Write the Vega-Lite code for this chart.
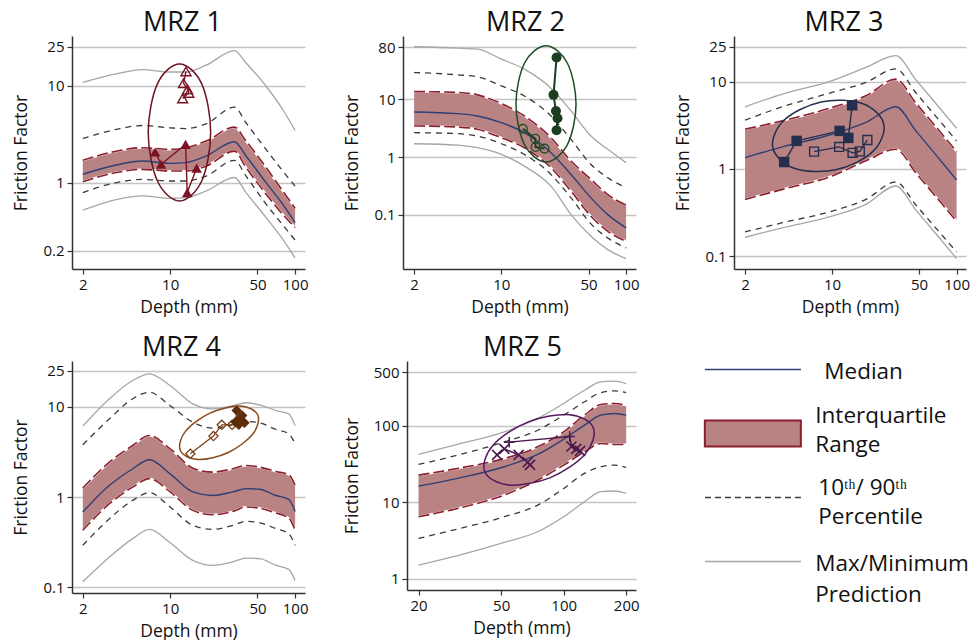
{
  "$schema": "https://vega.github.io/schema/vega-lite/v6.json",
  "background": "white",
  "padding": {"left": 12, "top": 9, "right": 0, "bottom": 0},
  "datasets": {
    "curves": [
      {"panel": "MRZ 1", "depth": 2, "lo": 0.52, "p10": 0.79, "q1": 1.02, "med": 1.22, "q3": 1.7, "p90": 2.85, "hi": 10.8},
      {"panel": "MRZ 1", "depth": 3.7, "lo": 0.67, "p10": 1.0, "q1": 1.27, "med": 1.52, "q3": 2.11, "p90": 3.53, "hi": 13.2},
      {"panel": "MRZ 1", "depth": 6, "lo": 0.73, "p10": 1.08, "q1": 1.37, "med": 1.67, "q3": 2.29, "p90": 3.88, "hi": 14.6},
      {"panel": "MRZ 1", "depth": 10, "lo": 0.69, "p10": 1.04, "q1": 1.32, "med": 1.58, "q3": 2.2, "p90": 3.67, "hi": 13.8},
      {"panel": "MRZ 1", "depth": 13.4, "lo": 0.7, "p10": 1.04, "q1": 1.32, "med": 1.61, "q3": 2.29, "p90": 3.61, "hi": 13.8},
      {"panel": "MRZ 1", "depth": 19.4, "lo": 0.82, "p10": 1.17, "q1": 1.48, "med": 1.88, "q3": 2.68, "p90": 4.04, "hi": 16.2},
      {"panel": "MRZ 1", "depth": 32.7, "lo": 1.13, "p10": 1.7, "q1": 2.11, "med": 2.64, "q3": 3.73, "p90": 5.99, "hi": 22.9},
      {"panel": "MRZ 1", "depth": 40.5, "lo": 0.79, "p10": 1.17, "q1": 1.43, "med": 1.88, "q3": 2.68, "p90": 4.13, "hi": 17.1},
      {"panel": "MRZ 1", "depth": 58.6, "lo": 0.437, "p10": 0.6, "q1": 0.76, "med": 1.0, "q3": 1.43, "p90": 2.2, "hi": 9.84},
      {"panel": "MRZ 1", "depth": 79.6, "lo": 0.262, "p10": 0.367, "q1": 0.473, "med": 0.6, "q3": 0.82, "p90": 1.32, "hi": 5.67},
      {"panel": "MRZ 1", "depth": 100, "lo": 0.167, "p10": 0.256, "q1": 0.345, "med": 0.388, "q3": 0.545, "p90": 0.92, "hi": 3.45},

      {"panel": "MRZ 2", "depth": 2, "lo": 1.7, "p10": 2.64, "q1": 3.45, "med": 6.03, "q3": 13.6, "p90": 29.0, "hi": 80.8},
      {"panel": "MRZ 2", "depth": 4.46, "lo": 1.61, "p10": 2.54, "q1": 3.31, "med": 5.64, "q3": 13.1, "p90": 26.4, "hi": 76.6},
      {"panel": "MRZ 2", "depth": 6.44, "lo": 1.45, "p10": 2.31, "q1": 3.02, "med": 5.14, "q3": 11.9, "p90": 24.4, "hi": 73.6},
      {"panel": "MRZ 2", "depth": 10, "lo": 1.11, "p10": 1.7, "q1": 2.16, "med": 3.94, "q3": 8.41, "p90": 17.0, "hi": 49.4},
      {"panel": "MRZ 2", "depth": 15.3, "lo": 0.698, "p10": 1.11, "q1": 1.45, "med": 2.64, "q3": 5.14, "p90": 11.4, "hi": 33.1},
      {"panel": "MRZ 2", "depth": 25, "lo": 0.314, "p10": 0.5, "q1": 0.653, "med": 1.19, "q3": 2.16, "p90": 5.14, "hi": 15.5},
      {"panel": "MRZ 2", "depth": 36.2, "lo": 0.101, "p10": 0.197, "q1": 0.257, "med": 0.5, "q3": 0.853, "p90": 2.02, "hi": 6.28},
      {"panel": "MRZ 2", "depth": 52.3, "lo": 0.0427, "p10": 0.0698, "q1": 0.0948, "med": 0.197, "q3": 0.41, "p90": 0.746, "hi": 2.31},
      {"panel": "MRZ 2", "depth": 71.3, "lo": 0.0251, "p10": 0.0399, "q1": 0.0521, "med": 0.101, "q3": 0.225, "p90": 0.438, "hi": 1.36},
      {"panel": "MRZ 2", "depth": 100, "lo": 0.0175, "p10": 0.0268, "q1": 0.0349, "med": 0.0595, "q3": 0.147, "p90": 0.294, "hi": 0.8},

      {"panel": "MRZ 3", "depth": 2, "lo": 0.165, "p10": 0.19, "q1": 0.448, "med": 1.35, "q3": 2.86, "p90": 3.63, "hi": 5.16},
      {"panel": "MRZ 3", "depth": 3.99, "lo": 0.212, "p10": 0.242, "q1": 0.584, "med": 1.79, "q3": 3.56, "p90": 5.16, "hi": 7.21},
      {"panel": "MRZ 3", "depth": 10, "lo": 0.288, "p10": 0.329, "q1": 0.831, "med": 2.5, "q3": 5.07, "p90": 7.54, "hi": 10.3},
      {"panel": "MRZ 3", "depth": 18.7, "lo": 0.393, "p10": 0.448, "q1": 1.24, "med": 3.41, "q3": 6.9, "p90": 9.83, "hi": 14.6},
      {"panel": "MRZ 3", "depth": 32.5, "lo": 0.638, "p10": 0.709, "q1": 1.68, "med": 5.16, "q3": 10.7, "p90": 14.0, "hi": 19.9},
      {"panel": "MRZ 3", "depth": 47.1, "lo": 0.338, "p10": 0.386, "q1": 0.9, "med": 2.73, "q3": 5.69, "p90": 7.47, "hi": 10.5},
      {"panel": "MRZ 3", "depth": 68.2, "lo": 0.181, "p10": 0.21, "q1": 0.481, "med": 1.45, "q3": 3.04, "p90": 4.0, "hi": 5.63},
      {"panel": "MRZ 3", "depth": 100, "lo": 0.094, "p10": 0.112, "q1": 0.252, "med": 0.748, "q3": 1.58, "p90": 2.1, "hi": 2.93},

      {"panel": "MRZ 4", "depth": 2, "lo": 0.115, "p10": 0.292, "q1": 0.428, "med": 0.682, "q3": 1.26, "p90": 3.8, "hi": 6.11},
      {"panel": "MRZ 4", "depth": 3.27, "lo": 0.217, "p10": 0.575, "q1": 0.844, "med": 1.35, "q3": 2.44, "p90": 7.37, "hi": 12.3},
      {"panel": "MRZ 4", "depth": 5.02, "lo": 0.346, "p10": 0.919, "q1": 1.29, "med": 2.06, "q3": 3.73, "p90": 12.3, "hi": 19.6},
      {"panel": "MRZ 4", "depth": 6.83, "lo": 0.438, "p10": 1.12, "q1": 1.6, "med": 2.59, "q3": 4.82, "p90": 14.5, "hi": 23.2},
      {"panel": "MRZ 4", "depth": 10, "lo": 0.312, "p10": 0.775, "q1": 1.14, "med": 1.81, "q3": 3.43, "p90": 10.3, "hi": 17.2},
      {"panel": "MRZ 4", "depth": 15.2, "lo": 0.199, "p10": 0.486, "q1": 0.712, "med": 1.14, "q3": 2.09, "p90": 6.76, "hi": 10.8},
      {"panel": "MRZ 4", "depth": 21.9, "lo": 0.175, "p10": 0.438, "q1": 0.637, "med": 1.04, "q3": 1.89, "p90": 5.81, "hi": 9.5},
      {"panel": "MRZ 4", "depth": 31.7, "lo": 0.191, "p10": 0.486, "q1": 0.694, "med": 1.14, "q3": 2.06, "p90": 6.32, "hi": 10.3},
      {"panel": "MRZ 4", "depth": 40.5, "lo": 0.211, "p10": 0.538, "q1": 0.775, "med": 1.24, "q3": 2.24, "p90": 6.88, "hi": 11.1},
      {"panel": "MRZ 4", "depth": 51.8, "lo": 0.208, "p10": 0.52, "q1": 0.755, "med": 1.22, "q3": 2.15, "p90": 6.65, "hi": 10.5},
      {"panel": "MRZ 4", "depth": 70.4, "lo": 0.175, "p10": 0.446, "q1": 0.665, "med": 1.04, "q3": 1.92, "p90": 5.61, "hi": 9.1},
      {"panel": "MRZ 4", "depth": 88.9, "lo": 0.158, "p10": 0.393, "q1": 0.586, "med": 0.942, "q3": 1.77, "p90": 5.02, "hi": 8.37},
      {"panel": "MRZ 4", "depth": 100, "lo": 0.119, "p10": 0.292, "q1": 0.428, "med": 0.694, "q3": 1.35, "p90": 3.89, "hi": 6.21},

      {"panel": "MRZ 5", "depth": 20, "lo": 1.52, "p10": 3.39, "q1": 6.5, "med": 16.3, "q3": 22.7, "p90": 31.3, "hi": 42.3},
      {"panel": "MRZ 5", "depth": 30.8, "lo": 2.02, "p10": 4.49, "q1": 8.35, "med": 20.6, "q3": 27.8, "p90": 41.4, "hi": 57.1},
      {"panel": "MRZ 5", "depth": 51.8, "lo": 3.01, "p10": 6.5, "q1": 12.5, "med": 29.2, "q3": 37.5, "p90": 61.8, "hi": 83.5},
      {"panel": "MRZ 5", "depth": 75, "lo": 4.14, "p10": 9.23, "q1": 19.6, "med": 42.3, "q3": 53.2, "p90": 87.7, "hi": 125},
      {"panel": "MRZ 5", "depth": 100, "lo": 6.5, "p10": 15.2, "q1": 30.7, "med": 67.0, "q3": 83.5, "p90": 138, "hi": 196},
      {"panel": "MRZ 5", "depth": 126, "lo": 10.2, "p10": 23.9, "q1": 45.8, "med": 102, "q3": 138, "p90": 206, "hi": 292},
      {"panel": "MRZ 5", "depth": 151, "lo": 13.8, "p10": 29.2, "q1": 58.9, "med": 138, "q3": 190, "p90": 272, "hi": 375},
      {"panel": "MRZ 5", "depth": 176, "lo": 14.1, "p10": 30.7, "q1": 57.1, "med": 145, "q3": 196, "p90": 286, "hi": 383},
      {"panel": "MRZ 5", "depth": 200, "lo": 13.1, "p10": 28.6, "q1": 57.1, "med": 138, "q3": 186, "p90": 272, "hi": 356}
    ],
    "samples": [
      {"panel": "MRZ 1", "depth": 7.59, "ff": 2.07, "group": "filled", "chain": "a", "seq": 1},
      {"panel": "MRZ 1", "depth": 8.47, "ff": 1.55, "group": "filled", "chain": "a", "seq": 2},
      {"panel": "MRZ 1", "depth": 13.3, "ff": 2.48, "group": "filled", "chain": "a", "seq": 3},
      {"panel": "MRZ 1", "depth": 13.7, "ff": 0.79, "group": "filled", "chain": "a", "seq": 4},
      {"panel": "MRZ 1", "depth": 16.3, "ff": 1.41, "group": "filled", "chain": "a", "seq": 5},
      {"panel": "MRZ 1", "depth": 12.6, "ff": 7.36, "group": "hollow", "chain": "b", "seq": 1},
      {"panel": "MRZ 1", "depth": 14.1, "ff": 8.4, "group": "hollow", "chain": "b", "seq": 2},
      {"panel": "MRZ 1", "depth": 13.8, "ff": 9.1, "group": "hollow", "chain": "b", "seq": 3},
      {"panel": "MRZ 1", "depth": 12.8, "ff": 10.6, "group": "hollow", "chain": "b", "seq": 4},
      {"panel": "MRZ 1", "depth": 13.4, "ff": 14.0, "group": "hollow", "chain": "b", "seq": 5},

      {"panel": "MRZ 2", "depth": 27.7, "ff": 52.6, "group": "filled", "chain": "a", "seq": 1},
      {"panel": "MRZ 2", "depth": 26.2, "ff": 11.9, "group": "filled", "chain": "a", "seq": 2},
      {"panel": "MRZ 2", "depth": 27.4, "ff": 6.27, "group": "filled", "chain": "a", "seq": 3},
      {"panel": "MRZ 2", "depth": 28.2, "ff": 4.69, "group": "filled", "chain": "a", "seq": 4},
      {"panel": "MRZ 2", "depth": 27.7, "ff": 2.9, "group": "filled", "chain": "a", "seq": 5},
      {"panel": "MRZ 2", "depth": 14.9, "ff": 3.08, "group": "hollow", "chain": "b", "seq": 1},
      {"panel": "MRZ 2", "depth": 18.7, "ff": 2.08, "group": "hollow", "chain": "b", "seq": 2},
      {"panel": "MRZ 2", "depth": 18.8, "ff": 1.49, "group": "hollow", "chain": "b", "seq": 3},
      {"panel": "MRZ 2", "depth": 22.2, "ff": 1.4, "group": "hollow", "chain": "b", "seq": 4},

      {"panel": "MRZ 3", "depth": 4.12, "ff": 1.2, "group": "filled", "chain": "a", "seq": 1},
      {"panel": "MRZ 3", "depth": 5.19, "ff": 2.1, "group": "filled", "chain": "a", "seq": 2},
      {"panel": "MRZ 3", "depth": 11.5, "ff": 2.73, "group": "filled", "chain": "a", "seq": 3},
      {"panel": "MRZ 3", "depth": 13.5, "ff": 2.27, "group": "filled", "chain": "a", "seq": 4},
      {"panel": "MRZ 3", "depth": 14.5, "ff": 5.37, "group": "filled", "chain": "a", "seq": 5},
      {"panel": "MRZ 3", "depth": 7.17, "ff": 1.58, "group": "hollow", "chain": "b", "seq": 1},
      {"panel": "MRZ 3", "depth": 11.4, "ff": 1.79, "group": "hollow", "chain": "b", "seq": 2},
      {"panel": "MRZ 3", "depth": 14.6, "ff": 1.53, "group": "hollow", "chain": "b", "seq": 3},
      {"panel": "MRZ 3", "depth": 16.7, "ff": 1.59, "group": "hollow", "chain": "b", "seq": 4},
      {"panel": "MRZ 3", "depth": 19.2, "ff": 2.15, "group": "hollow", "chain": "b", "seq": 5},

      {"panel": "MRZ 4", "depth": 14.5, "ff": 3.02, "group": "hollow", "chain": "b", "seq": 1},
      {"panel": "MRZ 4", "depth": 22.2, "ff": 4.74, "group": "hollow", "chain": "b", "seq": 2},
      {"panel": "MRZ 4", "depth": 25.9, "ff": 6.32, "group": "hollow", "chain": "b", "seq": 3},
      {"panel": "MRZ 4", "depth": 31.3, "ff": 6.32, "group": "hollow", "chain": "b", "seq": 4},
      {"panel": "MRZ 4", "depth": 33.3, "ff": 6.77, "group": "filled", "chain": "a", "seq": 1},
      {"panel": "MRZ 4", "depth": 34.1, "ff": 9.1, "group": "filled", "chain": "a", "seq": 2},
      {"panel": "MRZ 4", "depth": 37.7, "ff": 8.01, "group": "filled", "chain": "a", "seq": 3},
      {"panel": "MRZ 4", "depth": 35.9, "ff": 7.36, "group": "filled", "chain": "a", "seq": 4},
      {"panel": "MRZ 4", "depth": 39.3, "ff": 6.65, "group": "filled", "chain": "a", "seq": 5},
      {"panel": "MRZ 4", "depth": 35.4, "ff": 6.32, "group": "filled", "chain": "a", "seq": 6},

      {"panel": "MRZ 5", "depth": 47.8, "ff": 41.8, "group": "filled", "chain": "a", "seq": 1},
      {"panel": "MRZ 5", "depth": 51.8, "ff": 50.1, "group": "filled", "chain": "a", "seq": 2},
      {"panel": "MRZ 5", "depth": 60.7, "ff": 41.8, "group": "filled", "chain": "a", "seq": 3},
      {"panel": "MRZ 5", "depth": 67.1, "ff": 33.5, "group": "filled", "chain": "a", "seq": 4},
      {"panel": "MRZ 5", "depth": 68.9, "ff": 30.9, "group": "filled", "chain": "a", "seq": 5},
      {"panel": "MRZ 5", "depth": 54.7, "ff": 61.2, "group": "hollow", "chain": "c", "seq": 1},
      {"panel": "MRZ 5", "depth": 107, "ff": 72.6, "group": "hollow", "chain": "c", "seq": 2},
      {"panel": "MRZ 5", "depth": 109, "ff": 53.8, "group": "filled", "chain": "c", "seq": 3},
      {"panel": "MRZ 5", "depth": 115, "ff": 50.1, "group": "filled", "chain": "c", "seq": 4},
      {"panel": "MRZ 5", "depth": 120, "ff": 47.1, "group": "filled", "chain": "c", "seq": 5}
    ],
    "ellipses": [
      {"panel": "MRZ 1", "depth": 21.1, "ff": 3.29, "seq": 1},
      {"panel": "MRZ 1", "depth": 17.9, "ff": 10.4, "seq": 2},
      {"panel": "MRZ 1", "depth": 11.9, "ff": 16.7, "seq": 3},
      {"panel": "MRZ 1", "depth": 7.91, "ff": 10.4, "seq": 4},
      {"panel": "MRZ 1", "depth": 6.68, "ff": 3.29, "seq": 5},
      {"panel": "MRZ 1", "depth": 7.91, "ff": 1.04, "seq": 6},
      {"panel": "MRZ 1", "depth": 11.9, "ff": 0.649, "seq": 7},
      {"panel": "MRZ 1", "depth": 17.9, "ff": 1.04, "seq": 8},

      {"panel": "MRZ 2", "depth": 39.7, "ff": 8.3, "seq": 1},
      {"panel": "MRZ 2", "depth": 33.7, "ff": 42.7, "seq": 2},
      {"panel": "MRZ 2", "depth": 22.8, "ff": 83.9, "seq": 3},
      {"panel": "MRZ 2", "depth": 15.4, "ff": 42.7, "seq": 4},
      {"panel": "MRZ 2", "depth": 13.1, "ff": 8.3, "seq": 5},
      {"panel": "MRZ 2", "depth": 15.4, "ff": 1.61, "seq": 6},
      {"panel": "MRZ 2", "depth": 22.8, "ff": 0.82, "seq": 7},
      {"panel": "MRZ 2", "depth": 33.7, "ff": 1.61, "seq": 8},

      {"panel": "MRZ 3", "depth": 26.0, "ff": 3.27, "seq": 1},
      {"panel": "MRZ 3", "depth": 21.2, "ff": 1.58, "seq": 2},
      {"panel": "MRZ 3", "depth": 10.7, "ff": 0.977, "seq": 3},
      {"panel": "MRZ 3", "depth": 4.96, "ff": 1.02, "seq": 4},
      {"panel": "MRZ 3", "depth": 3.34, "ff": 1.75, "seq": 5},
      {"panel": "MRZ 3", "depth": 4.11, "ff": 3.62, "seq": 6},
      {"panel": "MRZ 3", "depth": 8.16, "ff": 5.87, "seq": 7},
      {"panel": "MRZ 3", "depth": 17.5, "ff": 5.63, "seq": 8},

      {"panel": "MRZ 4", "depth": 50.2, "ff": 8.16, "seq": 1},
      {"panel": "MRZ 4", "depth": 45.9, "ff": 5.0, "seq": 2},
      {"panel": "MRZ 4", "depth": 29.2, "ff": 3.12, "seq": 3},
      {"panel": "MRZ 4", "depth": 16.8, "ff": 2.61, "seq": 4},
      {"panel": "MRZ 4", "depth": 12.1, "ff": 3.26, "seq": 5},
      {"panel": "MRZ 4", "depth": 13.2, "ff": 5.31, "seq": 6},
      {"panel": "MRZ 4", "depth": 20.8, "ff": 8.51, "seq": 7},
      {"panel": "MRZ 4", "depth": 36.1, "ff": 10.2, "seq": 8},

      {"panel": "MRZ 5", "depth": 139, "ff": 93.9, "seq": 1},
      {"panel": "MRZ 5", "depth": 127, "ff": 43.0, "seq": 2},
      {"panel": "MRZ 5", "depth": 86.3, "ff": 21.1, "seq": 3},
      {"panel": "MRZ 5", "depth": 54.3, "ff": 16.9, "seq": 4},
      {"panel": "MRZ 5", "depth": 41.7, "ff": 25.2, "seq": 5},
      {"panel": "MRZ 5", "depth": 45.5, "ff": 55.1, "seq": 6},
      {"panel": "MRZ 5", "depth": 67.1, "ff": 112, "seq": 7},
      {"panel": "MRZ 5", "depth": 107, "ff": 140, "seq": 8}
    ],
    "legend": [
      {"item": "Median", "label": "Median"},
      {"item": "IQR", "label": "Interquartile\nRange"},
      {"item": "Pct", "label": "10ᵗʰ/ 90ᵗʰ\nPercentile"},
      {"item": "MaxMin", "label": "Max/Minimum\nPrediction"}
    ]
  },
  "spacing": 18,
  "vconcat": [
    {
      "spacing": 35,
      "hconcat": [
        {
          "title": {"text": "MRZ 1", "dx": -6},
          "width": 233, "height": 233,
          "encoding": {"x": {"field": "depth", "type": "quantitative", "title": "Depth (mm)", "scale": {"type": "log", "domain": [1.64, 120], "nice": false}, "axis": {"values": [2, 10, 50, 100], "format": "~g"}}},
          "layer": [
            {"data": {"name": "curves"}, "transform": [{"filter": "datum.panel == 'MRZ 1'"}], "mark": {"type": "area", "color": "#b98384", "interpolate": "monotone"}, "encoding": {"y": {"field": "q1", "type": "quantitative", "title": "Friction Factor", "scale": {"type": "log", "domain": [0.129, 32.4], "nice": false}, "axis": {"values": [0.2, 1, 10, 25], "format": "~g"}}, "y2": {"field": "q3"}}},
            {"data": {"name": "curves"}, "transform": [{"filter": "datum.panel == 'MRZ 1'"}, {"fold": ["q1", "q3"], "as": ["edge", "ff"]}], "mark": {"type": "line", "color": "white", "strokeWidth": 2, "interpolate": "monotone"}, "encoding": {"y": {"field": "ff", "type": "quantitative", "title": "Friction Factor"}, "detail": {"field": "edge"}}},
            {"data": {"name": "curves"}, "transform": [{"filter": "datum.panel == 'MRZ 1'"}, {"fold": ["q1", "q3"], "as": ["edge", "ff"]}], "mark": {"type": "line", "color": "#8c1f2e", "strokeWidth": 1.6, "strokeDash": [11, 4], "interpolate": "monotone"}, "encoding": {"y": {"field": "ff", "type": "quantitative", "title": "Friction Factor"}, "detail": {"field": "edge"}}},
            {"data": {"name": "curves"}, "transform": [{"filter": "datum.panel == 'MRZ 1'"}], "mark": {"type": "line", "color": "#2e3f74", "strokeWidth": 1.4, "interpolate": "monotone"}, "encoding": {"y": {"field": "med", "type": "quantitative", "title": "Friction Factor"}}},
            {"data": {"name": "curves"}, "transform": [{"filter": "datum.panel == 'MRZ 1'"}, {"fold": ["p10", "p90"], "as": ["pct", "ff"]}], "mark": {"type": "line", "color": "#3a3a3a", "strokeWidth": 1.3, "strokeDash": [6, 5], "interpolate": "monotone"}, "encoding": {"y": {"field": "ff", "type": "quantitative", "title": "Friction Factor"}, "detail": {"field": "pct"}}},
            {"data": {"name": "curves"}, "transform": [{"filter": "datum.panel == 'MRZ 1'"}, {"fold": ["lo", "hi"], "as": ["bound", "ff"]}], "mark": {"type": "line", "color": "#a6a6a6", "strokeWidth": 1.3, "interpolate": "monotone"}, "encoding": {"y": {"field": "ff", "type": "quantitative", "title": "Friction Factor"}, "detail": {"field": "bound"}}},
            {"data": {"name": "ellipses"}, "transform": [{"filter": "datum.panel == 'MRZ 1'"}], "mark": {"type": "line", "color": "#6e1420", "strokeWidth": 1.5, "interpolate": "cardinal-closed"}, "encoding": {"y": {"field": "ff", "type": "quantitative", "title": "Friction Factor"}, "order": {"field": "seq", "type": "quantitative"}}},
            {"data": {"name": "samples"}, "transform": [{"filter": "datum.panel == 'MRZ 1'"}], "mark": {"type": "line", "color": "#7a1424", "strokeWidth": 1.4}, "encoding": {"y": {"field": "ff", "type": "quantitative", "title": "Friction Factor"}, "detail": {"field": "chain"}, "order": {"field": "seq", "type": "quantitative"}}},
            {"data": {"name": "samples"}, "transform": [{"filter": "datum.panel == 'MRZ 1' && datum.group == 'hollow'"}], "mark": {"type": "point", "shape": "triangle-up", "filled": false, "size": 100, "color": "#7a1424", "strokeWidth": 1.4, "opacity": 1}, "encoding": {"y": {"field": "ff", "type": "quantitative", "title": "Friction Factor"}}},
            {"data": {"name": "samples"}, "transform": [{"filter": "datum.panel == 'MRZ 1' && datum.group == 'filled'"}], "mark": {"type": "point", "shape": "triangle-up", "filled": true, "size": 110, "color": "#7a1424", "opacity": 1}, "encoding": {"y": {"field": "ff", "type": "quantitative", "title": "Friction Factor"}}}
          ]
        },
        {
          "title": {"text": "MRZ 2", "dx": 6},
          "width": 233, "height": 233,
          "encoding": {"x": {"field": "depth", "type": "quantitative", "title": "Depth (mm)", "scale": {"type": "log", "domain": [1.63, 120], "nice": false}, "axis": {"values": [2, 10, 50, 100], "format": "~g"}}},
          "layer": [
            {"data": {"name": "curves"}, "transform": [{"filter": "datum.panel == 'MRZ 2'"}], "mark": {"type": "area", "color": "#b98384", "interpolate": "monotone"}, "encoding": {"y": {"field": "q1", "type": "quantitative", "title": "Friction Factor", "scale": {"type": "log", "domain": [0.0116, 124], "nice": false}, "axis": {"values": [0.1, 1, 10, 80], "format": "~g"}}, "y2": {"field": "q3"}}},
            {"data": {"name": "curves"}, "transform": [{"filter": "datum.panel == 'MRZ 2'"}, {"fold": ["q1", "q3"], "as": ["edge", "ff"]}], "mark": {"type": "line", "color": "white", "strokeWidth": 2, "interpolate": "monotone"}, "encoding": {"y": {"field": "ff", "type": "quantitative", "title": "Friction Factor"}, "detail": {"field": "edge"}}},
            {"data": {"name": "curves"}, "transform": [{"filter": "datum.panel == 'MRZ 2'"}, {"fold": ["q1", "q3"], "as": ["edge", "ff"]}], "mark": {"type": "line", "color": "#8c1f2e", "strokeWidth": 1.6, "strokeDash": [11, 4], "interpolate": "monotone"}, "encoding": {"y": {"field": "ff", "type": "quantitative", "title": "Friction Factor"}, "detail": {"field": "edge"}}},
            {"data": {"name": "curves"}, "transform": [{"filter": "datum.panel == 'MRZ 2'"}], "mark": {"type": "line", "color": "#2e3f74", "strokeWidth": 1.4, "interpolate": "monotone"}, "encoding": {"y": {"field": "med", "type": "quantitative", "title": "Friction Factor"}}},
            {"data": {"name": "curves"}, "transform": [{"filter": "datum.panel == 'MRZ 2'"}, {"fold": ["p10", "p90"], "as": ["pct", "ff"]}], "mark": {"type": "line", "color": "#3a3a3a", "strokeWidth": 1.3, "strokeDash": [6, 5], "interpolate": "monotone"}, "encoding": {"y": {"field": "ff", "type": "quantitative", "title": "Friction Factor"}, "detail": {"field": "pct"}}},
            {"data": {"name": "curves"}, "transform": [{"filter": "datum.panel == 'MRZ 2'"}, {"fold": ["lo", "hi"], "as": ["bound", "ff"]}], "mark": {"type": "line", "color": "#a6a6a6", "strokeWidth": 1.3, "interpolate": "monotone"}, "encoding": {"y": {"field": "ff", "type": "quantitative", "title": "Friction Factor"}, "detail": {"field": "bound"}}},
            {"data": {"name": "ellipses"}, "transform": [{"filter": "datum.panel == 'MRZ 2'"}], "mark": {"type": "line", "color": "#1f4d24", "strokeWidth": 1.5, "interpolate": "cardinal-closed"}, "encoding": {"y": {"field": "ff", "type": "quantitative", "title": "Friction Factor"}, "order": {"field": "seq", "type": "quantitative"}}},
            {"data": {"name": "samples"}, "transform": [{"filter": "datum.panel == 'MRZ 2'"}], "mark": {"type": "line", "color": "#1b3d20", "strokeWidth": 2}, "encoding": {"y": {"field": "ff", "type": "quantitative", "title": "Friction Factor"}, "detail": {"field": "chain"}, "order": {"field": "seq", "type": "quantitative"}}},
            {"data": {"name": "samples"}, "transform": [{"filter": "datum.panel == 'MRZ 2' && datum.group == 'hollow'"}], "mark": {"type": "point", "shape": "circle", "filled": false, "size": 75, "color": "#1f4d24", "strokeWidth": 1.4, "opacity": 1}, "encoding": {"y": {"field": "ff", "type": "quantitative", "title": "Friction Factor"}}},
            {"data": {"name": "samples"}, "transform": [{"filter": "datum.panel == 'MRZ 2' && datum.group == 'filled'"}], "mark": {"type": "point", "shape": "circle", "filled": true, "size": 100, "color": "#1b3d20", "opacity": 1}, "encoding": {"y": {"field": "ff", "type": "quantitative", "title": "Friction Factor"}}}
          ]
        },
        {
          "title": {"text": "MRZ 3", "dx": -6},
          "width": 232, "height": 233,
          "encoding": {"x": {"field": "depth", "type": "quantitative", "title": "Depth (mm)", "scale": {"type": "log", "domain": [1.63, 119], "nice": false}, "axis": {"values": [2, 10, 50, 100], "format": "~g"}}},
          "layer": [
            {"data": {"name": "curves"}, "transform": [{"filter": "datum.panel == 'MRZ 3'"}], "mark": {"type": "area", "color": "#b98384", "interpolate": "monotone"}, "encoding": {"y": {"field": "q1", "type": "quantitative", "title": "Friction Factor", "scale": {"type": "log", "domain": [0.0714, 33.4], "nice": false}, "axis": {"values": [0.1, 1, 10, 25], "format": "~g"}}, "y2": {"field": "q3"}}},
            {"data": {"name": "curves"}, "transform": [{"filter": "datum.panel == 'MRZ 3'"}, {"fold": ["q1", "q3"], "as": ["edge", "ff"]}], "mark": {"type": "line", "color": "white", "strokeWidth": 2, "interpolate": "monotone"}, "encoding": {"y": {"field": "ff", "type": "quantitative", "title": "Friction Factor"}, "detail": {"field": "edge"}}},
            {"data": {"name": "curves"}, "transform": [{"filter": "datum.panel == 'MRZ 3'"}, {"fold": ["q1", "q3"], "as": ["edge", "ff"]}], "mark": {"type": "line", "color": "#8c1f2e", "strokeWidth": 1.6, "strokeDash": [11, 4], "interpolate": "monotone"}, "encoding": {"y": {"field": "ff", "type": "quantitative", "title": "Friction Factor"}, "detail": {"field": "edge"}}},
            {"data": {"name": "curves"}, "transform": [{"filter": "datum.panel == 'MRZ 3'"}], "mark": {"type": "line", "color": "#2e3f74", "strokeWidth": 1.4, "interpolate": "monotone"}, "encoding": {"y": {"field": "med", "type": "quantitative", "title": "Friction Factor"}}},
            {"data": {"name": "curves"}, "transform": [{"filter": "datum.panel == 'MRZ 3'"}, {"fold": ["p10", "p90"], "as": ["pct", "ff"]}], "mark": {"type": "line", "color": "#3a3a3a", "strokeWidth": 1.3, "strokeDash": [6, 5], "interpolate": "monotone"}, "encoding": {"y": {"field": "ff", "type": "quantitative", "title": "Friction Factor"}, "detail": {"field": "pct"}}},
            {"data": {"name": "curves"}, "transform": [{"filter": "datum.panel == 'MRZ 3'"}, {"fold": ["lo", "hi"], "as": ["bound", "ff"]}], "mark": {"type": "line", "color": "#a6a6a6", "strokeWidth": 1.3, "interpolate": "monotone"}, "encoding": {"y": {"field": "ff", "type": "quantitative", "title": "Friction Factor"}, "detail": {"field": "bound"}}},
            {"data": {"name": "ellipses"}, "transform": [{"filter": "datum.panel == 'MRZ 3'"}], "mark": {"type": "line", "color": "#252f4d", "strokeWidth": 1.5, "interpolate": "cardinal-closed"}, "encoding": {"y": {"field": "ff", "type": "quantitative", "title": "Friction Factor"}, "order": {"field": "seq", "type": "quantitative"}}},
            {"data": {"name": "samples"}, "transform": [{"filter": "datum.panel == 'MRZ 3'"}], "mark": {"type": "line", "color": "#252f4d", "strokeWidth": 1.4}, "encoding": {"y": {"field": "ff", "type": "quantitative", "title": "Friction Factor"}, "detail": {"field": "chain"}, "order": {"field": "seq", "type": "quantitative"}}},
            {"data": {"name": "samples"}, "transform": [{"filter": "datum.panel == 'MRZ 3' && datum.group == 'hollow'"}], "mark": {"type": "point", "shape": "square", "filled": false, "size": 80, "color": "#252f4d", "strokeWidth": 1.4, "opacity": 1}, "encoding": {"y": {"field": "ff", "type": "quantitative", "title": "Friction Factor"}}},
            {"data": {"name": "samples"}, "transform": [{"filter": "datum.panel == 'MRZ 3' && datum.group == 'filled'"}], "mark": {"type": "point", "shape": "square", "filled": true, "size": 110, "color": "#252f4d", "opacity": 1}, "encoding": {"y": {"field": "ff", "type": "quantitative", "title": "Friction Factor"}}}
          ]
        }
      ]
    },
    {
      "spacing": 35,
      "hconcat": [
        {
          "title": {"text": "MRZ 4", "dx": -7},
          "width": 233, "height": 232,
          "encoding": {"x": {"field": "depth", "type": "quantitative", "title": "Depth (mm)", "scale": {"type": "log", "domain": [1.64, 120], "nice": false}, "axis": {"values": [2, 10, 50, 100], "format": "~g"}}},
          "layer": [
            {"data": {"name": "curves"}, "transform": [{"filter": "datum.panel == 'MRZ 4'"}], "mark": {"type": "area", "color": "#b98384", "interpolate": "monotone"}, "encoding": {"y": {"field": "q1", "type": "quantitative", "title": "Friction Factor", "scale": {"type": "log", "domain": [0.0865, 32.2], "nice": false}, "axis": {"values": [0.1, 1, 10, 25], "format": "~g"}}, "y2": {"field": "q3"}}},
            {"data": {"name": "curves"}, "transform": [{"filter": "datum.panel == 'MRZ 4'"}, {"fold": ["q1", "q3"], "as": ["edge", "ff"]}], "mark": {"type": "line", "color": "white", "strokeWidth": 2, "interpolate": "monotone"}, "encoding": {"y": {"field": "ff", "type": "quantitative", "title": "Friction Factor"}, "detail": {"field": "edge"}}},
            {"data": {"name": "curves"}, "transform": [{"filter": "datum.panel == 'MRZ 4'"}, {"fold": ["q1", "q3"], "as": ["edge", "ff"]}], "mark": {"type": "line", "color": "#8c1f2e", "strokeWidth": 1.6, "strokeDash": [11, 4], "interpolate": "monotone"}, "encoding": {"y": {"field": "ff", "type": "quantitative", "title": "Friction Factor"}, "detail": {"field": "edge"}}},
            {"data": {"name": "curves"}, "transform": [{"filter": "datum.panel == 'MRZ 4'"}], "mark": {"type": "line", "color": "#2e3f74", "strokeWidth": 1.4, "interpolate": "monotone"}, "encoding": {"y": {"field": "med", "type": "quantitative", "title": "Friction Factor"}}},
            {"data": {"name": "curves"}, "transform": [{"filter": "datum.panel == 'MRZ 4'"}, {"fold": ["p10", "p90"], "as": ["pct", "ff"]}], "mark": {"type": "line", "color": "#3a3a3a", "strokeWidth": 1.3, "strokeDash": [6, 5], "interpolate": "monotone"}, "encoding": {"y": {"field": "ff", "type": "quantitative", "title": "Friction Factor"}, "detail": {"field": "pct"}}},
            {"data": {"name": "curves"}, "transform": [{"filter": "datum.panel == 'MRZ 4'"}, {"fold": ["lo", "hi"], "as": ["bound", "ff"]}], "mark": {"type": "line", "color": "#a6a6a6", "strokeWidth": 1.3, "interpolate": "monotone"}, "encoding": {"y": {"field": "ff", "type": "quantitative", "title": "Friction Factor"}, "detail": {"field": "bound"}}},
            {"data": {"name": "ellipses"}, "transform": [{"filter": "datum.panel == 'MRZ 4'"}], "mark": {"type": "line", "color": "#8a4a1c", "strokeWidth": 1.5, "interpolate": "cardinal-closed"}, "encoding": {"y": {"field": "ff", "type": "quantitative", "title": "Friction Factor"}, "order": {"field": "seq", "type": "quantitative"}}},
            {"data": {"name": "samples"}, "transform": [{"filter": "datum.panel == 'MRZ 4'"}], "mark": {"type": "line", "color": "#7a3e14", "strokeWidth": 1.2}, "encoding": {"y": {"field": "ff", "type": "quantitative", "title": "Friction Factor"}, "detail": {"field": "chain"}, "order": {"field": "seq", "type": "quantitative"}}},
            {"data": {"name": "samples"}, "transform": [{"filter": "datum.panel == 'MRZ 4' && datum.group == 'hollow'"}], "mark": {"type": "point", "shape": "diamond", "filled": false, "size": 85, "color": "#7a3e14", "strokeWidth": 1.3, "opacity": 1}, "encoding": {"y": {"field": "ff", "type": "quantitative", "title": "Friction Factor"}}},
            {"data": {"name": "samples"}, "transform": [{"filter": "datum.panel == 'MRZ 4' && datum.group == 'filled'"}], "mark": {"type": "point", "shape": "diamond", "filled": true, "size": 110, "color": "#5e2d0c", "opacity": 1}, "encoding": {"y": {"field": "ff", "type": "quantitative", "title": "Friction Factor"}}}
          ]
        },
        {
          "title": {"text": "MRZ 5", "dx": 1},
          "width": 229, "height": 229,
          "encoding": {"x": {"field": "depth", "type": "quantitative", "title": "Depth (mm)", "scale": {"type": "log", "domain": [17.6, 223], "nice": false}, "axis": {"values": [20, 50, 100, 200], "format": "~g"}}},
          "layer": [
            {"data": {"name": "curves"}, "transform": [{"filter": "datum.panel == 'MRZ 5'"}], "mark": {"type": "area", "color": "#b98384", "interpolate": "monotone"}, "encoding": {"y": {"field": "q1", "type": "quantitative", "title": "Friction Factor", "scale": {"type": "log", "domain": [0.718, 703], "nice": false}, "axis": {"values": [1, 10, 100, 500], "format": "~g"}}, "y2": {"field": "q3"}}},
            {"data": {"name": "curves"}, "transform": [{"filter": "datum.panel == 'MRZ 5'"}, {"fold": ["q1", "q3"], "as": ["edge", "ff"]}], "mark": {"type": "line", "color": "white", "strokeWidth": 2, "interpolate": "monotone"}, "encoding": {"y": {"field": "ff", "type": "quantitative", "title": "Friction Factor"}, "detail": {"field": "edge"}}},
            {"data": {"name": "curves"}, "transform": [{"filter": "datum.panel == 'MRZ 5'"}, {"fold": ["q1", "q3"], "as": ["edge", "ff"]}], "mark": {"type": "line", "color": "#8c1f2e", "strokeWidth": 1.6, "strokeDash": [11, 4], "interpolate": "monotone"}, "encoding": {"y": {"field": "ff", "type": "quantitative", "title": "Friction Factor"}, "detail": {"field": "edge"}}},
            {"data": {"name": "curves"}, "transform": [{"filter": "datum.panel == 'MRZ 5'"}], "mark": {"type": "line", "color": "#2e3f74", "strokeWidth": 1.4, "interpolate": "monotone"}, "encoding": {"y": {"field": "med", "type": "quantitative", "title": "Friction Factor"}}},
            {"data": {"name": "curves"}, "transform": [{"filter": "datum.panel == 'MRZ 5'"}, {"fold": ["p10", "p90"], "as": ["pct", "ff"]}], "mark": {"type": "line", "color": "#3a3a3a", "strokeWidth": 1.3, "strokeDash": [6, 5], "interpolate": "monotone"}, "encoding": {"y": {"field": "ff", "type": "quantitative", "title": "Friction Factor"}, "detail": {"field": "pct"}}},
            {"data": {"name": "curves"}, "transform": [{"filter": "datum.panel == 'MRZ 5'"}, {"fold": ["lo", "hi"], "as": ["bound", "ff"]}], "mark": {"type": "line", "color": "#a6a6a6", "strokeWidth": 1.3, "interpolate": "monotone"}, "encoding": {"y": {"field": "ff", "type": "quantitative", "title": "Friction Factor"}, "detail": {"field": "bound"}}},
            {"data": {"name": "ellipses"}, "transform": [{"filter": "datum.panel == 'MRZ 5'"}], "mark": {"type": "line", "color": "#561a5e", "strokeWidth": 1.5, "interpolate": "cardinal-closed"}, "encoding": {"y": {"field": "ff", "type": "quantitative", "title": "Friction Factor"}, "order": {"field": "seq", "type": "quantitative"}}},
            {"data": {"name": "samples"}, "transform": [{"filter": "datum.panel == 'MRZ 5'"}], "mark": {"type": "line", "color": "#4a1a4f", "strokeWidth": 1.4}, "encoding": {"y": {"field": "ff", "type": "quantitative", "title": "Friction Factor"}, "detail": {"field": "chain"}, "order": {"field": "seq", "type": "quantitative"}}},
            {"data": {"name": "samples"}, "transform": [{"filter": "datum.panel == 'MRZ 5' && datum.group == 'hollow'"}], "mark": {"type": "point", "shape": "M-1,0L1,0M0,-1L0,1", "filled": false, "size": 110, "color": "#4a1a4f", "strokeWidth": 1.5, "opacity": 1}, "encoding": {"y": {"field": "ff", "type": "quantitative", "title": "Friction Factor"}}},
            {"data": {"name": "samples"}, "transform": [{"filter": "datum.panel == 'MRZ 5' && datum.group == 'filled'"}], "mark": {"type": "point", "shape": "M-1,-1L1,1M-1,1L1,-1", "filled": false, "size": 100, "color": "#4a1a4f", "strokeWidth": 1.6, "opacity": 1}, "encoding": {"y": {"field": "ff", "type": "quantitative", "title": "Friction Factor"}}}
          ]
        },
        {
          "width": 280, "height": 209,
          "data": {"name": "legend"},
          "encoding": {"y": {"field": "item", "type": "nominal", "scale": {"type": "point", "domain": ["Median", "IQR", "Pct", "MaxMin"], "padding": 0.133}, "axis": null}},
          "layer": [
            {"transform": [{"filter": "datum.item == 'Median'"}], "mark": {"type": "rule", "color": "#2e3f74", "strokeWidth": 1.6}, "encoding": {"x": {"datum": 0.107, "type": "quantitative", "scale": {"domain": [0, 1], "nice": false, "zero": false}, "axis": null}, "x2": {"datum": 0.45}}},
            {"transform": [{"filter": "datum.item == 'IQR'"}], "mark": {"type": "point", "shape": "M-1,-0.27L1,-0.27L1,0.27L-1,0.27Z", "size": 9216, "filled": true, "fill": "#b98384", "stroke": "#8c1f2e", "strokeWidth": 2, "opacity": 1}, "encoding": {"x": {"datum": 0.278, "type": "quantitative"}}},
            {"transform": [{"filter": "datum.item == 'Pct'"}], "mark": {"type": "rule", "color": "#3a3a3a", "strokeWidth": 1.4, "strokeDash": [6, 4]}, "encoding": {"x": {"datum": 0.107, "type": "quantitative"}, "x2": {"datum": 0.45}}},
            {"transform": [{"filter": "datum.item == 'MaxMin'"}], "mark": {"type": "rule", "color": "#a6a6a6", "strokeWidth": 1.6}, "encoding": {"x": {"datum": 0.107, "type": "quantitative"}, "x2": {"datum": 0.45}}},
            {"transform": [{"filter": "datum.item == 'Median'"}], "mark": {"type": "text", "align": "left", "baseline": "middle", "fontSize": 22.5, "dx": 9, "dy": 2, "color": "#111"}, "encoding": {"x": {"datum": 0.501, "type": "quantitative"}, "text": {"field": "label"}}},
            {"transform": [{"filter": "datum.item == 'IQR'"}], "mark": {"type": "text", "align": "left", "baseline": "middle", "fontSize": 22.5, "lineBreak": "\n", "lineHeight": 29, "dy": -18, "color": "#111"}, "encoding": {"x": {"datum": 0.501, "type": "quantitative"}, "text": {"field": "label"}}},
            {"transform": [{"filter": "datum.item == 'Pct'"}], "mark": {"type": "text", "align": "left", "baseline": "middle", "fontSize": 22.5, "lineBreak": "\n", "lineHeight": 29, "dx": 3, "dy": -9, "color": "#111"}, "encoding": {"x": {"datum": 0.501, "type": "quantitative"}, "text": {"field": "label"}}},
            {"transform": [{"filter": "datum.item == 'MaxMin'"}], "mark": {"type": "text", "align": "left", "baseline": "middle", "fontSize": 22.5, "lineBreak": "\n", "lineHeight": 31, "dy": 3, "color": "#111"}, "encoding": {"x": {"datum": 0.501, "type": "quantitative"}, "text": {"field": "label"}}}
          ]
        }
      ]
    }
  ],
  "config": {
    "font": "Open Sans",
    "view": {"stroke": null},
    "title": {"fontSize": 27, "fontWeight": "normal", "font": "Open Sans", "color": "#111", "anchor": "middle", "offset": -1},
    "axis": {"labelFont": "Open Sans", "titleFont": "Open Sans", "labelFontSize": 15, "titleFontSize": 17.5, "titleFontWeight": "normal", "labelColor": "#111", "titleColor": "#111", "domainColor": "#333", "domainWidth": 1.5, "tickColor": "#333", "tickSize": 5, "tickWidth": 1.2, "labelPadding": 3, "labelFlush": false, "labelOverlap": false},
    "axisY": {"grid": true, "gridColor": "#c4c4c4", "gridWidth": 1.5, "titlePadding": 12},
    "axisX": {"grid": false, "titlePadding": 6},
    "text": {"font": "Open Sans"}
  }
}
